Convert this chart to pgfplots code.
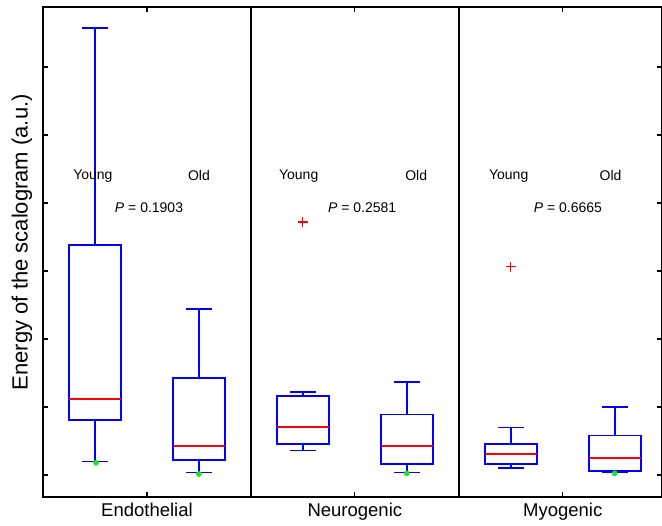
\documentclass[border=0pt]{standalone}
\usepackage{fontspec}
\setmainfont{Liberation Sans}
\usepackage{pgfplots}
\pgfplotsset{compat=1.18}
\usepgfplotslibrary{statistics}
\definecolor{bblue}{RGB}{0,0,255}
\definecolor{gdot}{RGB}{20,235,20}
\begin{document}
\begin{tikzpicture}
\begin{axis}[name=ax,
 scale only axis, width=619pt, height=490pt,
 xmin=0.5, xmax=6.455, ymin=-0.3235, ymax=6.882,
 xtick={1.5,3.5,5.5}, xticklabels={Endothelial,Neurogenic,Myogenic},
 ytick={0,1,2,3,4,5,6}, yticklabels={},
 tick align=inside, major tick length=5pt,
 xtick pos=both, ytick pos=both,
 tick style={black, line width=1.2pt},
 axis line style={line width=1.6pt},
 xticklabel style={font=\fontsize{18.5}{21}\selectfont, yshift=-3pt},
 ylabel={Energy of the scalogram (a.u.)},
 ylabel style={font=\fontsize{22}{25}\selectfont, at={(axis description cs:-0.034,0.52)}, anchor=center},
 extra x ticks={2.5,4.5}, extra x tick labels={},
 extra x tick style={grid=major, major grid style={black, line width=1.6pt}, major tick length=0pt},
 boxplot/draw direction=y,
 boxplot/box extend=0.5, boxplot/whisker extend=0.25,
 boxplot/every median/.style={draw=none},
 boxplot/every box/.style={draw=bblue, line width=1.6pt},
 boxplot/every whisker/.style={draw=bblue, line width=1.6pt},
 clip=false,
]
% Endothelial
\addplot[draw=bblue, line width=1.6pt, boxplot prepared={draw position=1,
  lower whisker=0.20, lower quartile=0.81, median=1.118, upper quartile=3.38, upper whisker=6.57}] coordinates {};
\addplot[draw=bblue, line width=1.6pt, boxplot prepared={draw position=2,
  lower whisker=0.034, lower quartile=0.22, median=0.43, upper quartile=1.43, upper whisker=2.44}] coordinates {};
% Neurogenic
\addplot[draw=bblue, line width=1.6pt, mark=+, mark options={red, line width=1.1pt, mark size=5pt}, boxplot prepared={draw position=3,
  lower whisker=0.36, lower quartile=0.46, median=0.708, upper quartile=1.16, upper whisker=1.22}] coordinates {(0,3.72)};
\addplot[draw=bblue, line width=1.6pt, boxplot prepared={draw position=4,
  lower whisker=0.034, lower quartile=0.16, median=0.43, upper quartile=0.89, upper whisker=1.37}] coordinates {};
% Myogenic
\addplot[draw=bblue, line width=1.6pt, mark=+, mark options={red, line width=1.1pt, mark size=5pt}, boxplot prepared={draw position=5,
  lower whisker=0.10, lower quartile=0.16, median=0.31, upper quartile=0.46, upper whisker=0.70}] coordinates {(0,3.06)};
\addplot[draw=bblue, line width=1.6pt, boxplot prepared={draw position=6,
  lower whisker=0.034, lower quartile=0.06, median=0.25, upper quartile=0.58, upper whisker=1.00}] coordinates {};
% medians (red)
\addplot[red, line width=1.6pt, no marks] coordinates {(0.75,1.118) (1.25,1.118)};
\addplot[red, line width=1.6pt, no marks] coordinates {(1.75,0.43) (2.25,0.43)};
\addplot[red, line width=1.6pt, no marks] coordinates {(2.75,0.708) (3.25,0.708)};
\addplot[red, line width=1.6pt, no marks] coordinates {(3.75,0.43) (4.25,0.43)};
\addplot[red, line width=1.6pt, no marks] coordinates {(4.75,0.31) (5.25,0.31)};
\addplot[red, line width=1.6pt, no marks] coordinates {(5.75,0.25) (6.25,0.25)};
% green dots
\addplot[only marks, mark=*, mark size=2.6pt, color=gdot] coordinates {(1.01,0.18) (2.0,0.015) (4.0,0.025) (6.0,0.025)};
% annotations
\node[font=\fontsize{14}{16}\selectfont] at (axis cs:0.98,4.40) {Young};
\node[font=\fontsize{14}{16}\selectfont] at (axis cs:2.0,4.40) {Old};
\node[font=\fontsize{14}{16}\selectfont] at (axis cs:1.52,3.93) {\textit{P} = 0.1903};
\node[font=\fontsize{14}{16}\selectfont] at (axis cs:2.96,4.40) {Young};
\node[font=\fontsize{14}{16}\selectfont] at (axis cs:4.09,4.40) {Old};
\node[font=\fontsize{14}{16}\selectfont] at (axis cs:3.57,3.93) {\textit{P} = 0.2581};
\node[font=\fontsize{14}{16}\selectfont] at (axis cs:4.98,4.40) {Young};
\node[font=\fontsize{14}{16}\selectfont] at (axis cs:5.96,4.40) {Old};
\node[font=\fontsize{14}{16}\selectfont] at (axis cs:5.55,3.93) {\textit{P} = 0.6665};
\end{axis}
\pgfresetboundingbox
\path ([shift={(-43pt,-28pt)}]ax.south west) rectangle ([shift={(0pt,7pt)}]ax.north east);
\end{tikzpicture}
\end{document}
